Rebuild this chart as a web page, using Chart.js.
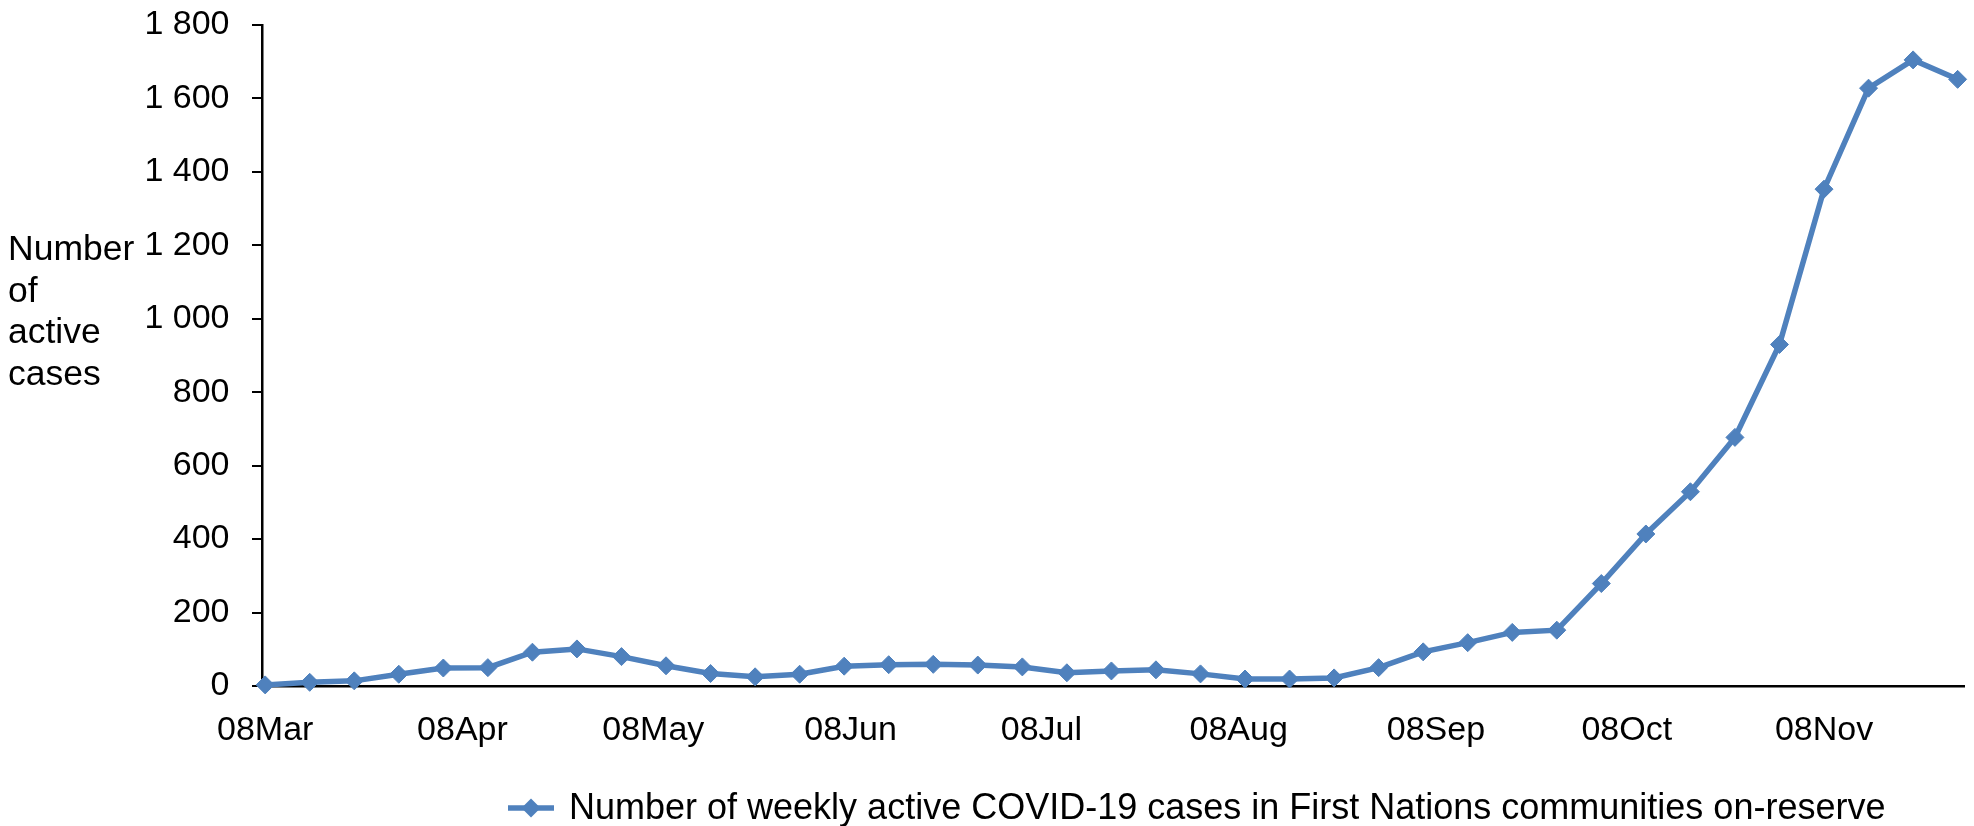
<!DOCTYPE html>
<html>
<head>
<meta charset="utf-8">
<title>Weekly active COVID-19 cases in First Nations communities on-reserve</title>
<script src="https://cdn.jsdelivr.net/npm/chart.js@4/dist/chart.umd.min.js"></script>
<style>
  html, body { margin: 0; padding: 0; background: #ffffff; }
  #chart { display: block; }
</style>
</head>
<body>
<canvas id="chart" width="1974" height="826"></canvas>
<script>
// Week starting dates of each reported value (2020)
const weekDates = [
  "2020-03-08", "2020-03-15", "2020-03-22", "2020-03-29",
  "2020-04-05", "2020-04-12", "2020-04-19", "2020-04-26",
  "2020-05-03", "2020-05-10", "2020-05-17", "2020-05-24", "2020-05-31",
  "2020-06-07", "2020-06-14", "2020-06-21", "2020-06-28",
  "2020-07-05", "2020-07-12", "2020-07-19", "2020-07-26",
  "2020-08-02", "2020-08-09", "2020-08-16", "2020-08-23", "2020-08-30",
  "2020-09-06", "2020-09-13", "2020-09-20", "2020-09-27",
  "2020-10-04", "2020-10-11", "2020-10-18", "2020-10-25",
  "2020-11-01", "2020-11-08", "2020-11-15", "2020-11-22", "2020-11-29"
];

// Number of weekly active cases
const activeCases = [
  3, 10, 14, 32,
  49, 50, 92, 101,
  80, 55, 34, 25, 32,
  54, 58, 59, 57,
  52, 36, 41, 44,
  33, 19, 19, 22, 50,
  93, 118, 146, 152,
  279, 414, 529, 677,
  930, 1353, 1628, 1705, 1652
];

// Month tick positions and their labels on the date axis
const monthTickDates = [
  "2020-03-08", "2020-04-08", "2020-05-08", "2020-06-08", "2020-07-08",
  "2020-08-08", "2020-09-08", "2020-10-08", "2020-11-08"
];
const monthTickLabels = [
  "08Mar", "08Apr", "08May", "08Jun", "08Jul",
  "08Aug", "08Sep", "08Oct", "08Nov"
];

// Value axis ticks and labels
const yTickValues = [0, 200, 400, 600, 800, 1000, 1200, 1400, 1600, 1800];
const yTickLabels = ["0", "200", "400", "600", "800", "1 000", "1 200", "1 400", "1 600", "1 800"];

const yTitleLines = ["Number", "of", "active", "cases"];
const seriesLabel = "Number of weekly active COVID-19 cases in First Nations communities on-reserve";

const SERIES_COLOR = "#4F81BD";
const FONT_FAMILY = "'Liberation Sans', Arial, sans-serif";
const TICK_FONT_SIZE = 34;

// Day offset from the first week, used as the x value on a linear axis
const originMs = Date.UTC(2020, 2, 8);
function dayOffset(iso) {
  const [y, m, d] = iso.split("-").map(Number);
  return Math.round((Date.UTC(y, m - 1, d) - originMs) / 86400000);
}

const points = weekDates.map((d, i) => ({ x: dayOffset(d), y: activeCases[i] }));
const monthTickValues = monthTickDates.map(dayOffset);

// Horizontal multi-line value-axis title on the left
const yTitlePlugin = {
  id: "yTitle",
  afterDraw(chart) {
    const ctx = chart.ctx;
    ctx.save();
    ctx.fillStyle = "#000000";
    ctx.font = "35.5px " + FONT_FAMILY;
    ctx.textAlign = "left";
    ctx.textBaseline = "alphabetic";
    const lineHeight = 41.5;
    yTitleLines.forEach((line, i) => {
      ctx.fillText(line, 8, 260 + i * lineHeight);
    });
    ctx.restore();
  }
};

// Legend entry: line with diamond marker, then the series name
const legendPlugin = {
  id: "seriesLegend",
  afterDraw(chart) {
    const ctx = chart.ctx;
    const ds = chart.data.datasets[0];
    const cy = 808;
    const x0 = 508, x1 = 554;
    ctx.save();
    ctx.strokeStyle = ds.borderColor;
    ctx.lineWidth = ds.borderWidth;
    ctx.beginPath();
    ctx.moveTo(x0, cy);
    ctx.lineTo(x1, cy);
    ctx.stroke();
    const r = ds.pointRadius + ds.pointBorderWidth / 2;
    const cx = (x0 + x1) / 2;
    ctx.fillStyle = ds.pointBackgroundColor;
    ctx.beginPath();
    ctx.moveTo(cx - r, cy);
    ctx.lineTo(cx, cy - r);
    ctx.lineTo(cx + r, cy);
    ctx.lineTo(cx, cy + r);
    ctx.closePath();
    ctx.fill();
    ctx.fillStyle = "#000000";
    ctx.font = "36px " + FONT_FAMILY;
    ctx.textAlign = "left";
    ctx.textBaseline = "middle";
    ctx.fillText(ds.label, 569, cy + 1);
    ctx.restore();
  }
};

new Chart(document.getElementById("chart"), {
  type: "line",
  data: {
    datasets: [{
      label: seriesLabel,
      data: points,
      borderColor: SERIES_COLOR,
      backgroundColor: SERIES_COLOR,
      borderWidth: 5.5,
      tension: 0,
      pointStyle: "rectRot",
      pointRadius: 9,
      pointHoverRadius: 9,
      pointBackgroundColor: SERIES_COLOR,
      pointBorderColor: SERIES_COLOR,
      pointBorderWidth: 1,
      clip: false
    }]
  },
  options: {
    responsive: false,
    animation: false,
    events: [],
    layout: { padding: { top: 25, right: 7.3, bottom: 0, left: 0 } },
    plugins: {
      legend: { display: false },
      tooltip: { enabled: false },
      title: { display: false }
    },
    scales: {
      x: {
        type: "linear",
        min: -0.5,
        max: 267,
        grid: { display: false, drawTicks: false },
        border: { display: true, color: "#000000", width: 2.5 },
        ticks: {
          autoSkip: false,
          maxRotation: 0,
          minRotation: 0,
          padding: 24,
          color: "#000000",
          font: { family: FONT_FAMILY, size: TICK_FONT_SIZE },
          callback: (value) => {
            const idx = monthTickValues.indexOf(value);
            return idx >= 0 ? monthTickLabels[idx] : "";
          }
        },
        afterBuildTicks: (scale) => {
          scale.ticks = monthTickValues.map((v) => ({ value: v }));
        },
        afterFit: (scale) => {
          scale.height = 140;
          scale.paddingLeft = 0;
          scale.paddingRight = 0;
        }
      },
      y: {
        type: "linear",
        min: 0,
        max: 1800,
        grid: {
          display: true,
          drawOnChartArea: false,
          drawTicks: true,
          tickLength: 10,
          color: "#000000",
          lineWidth: 2
        },
        border: { display: true, color: "#000000", width: 2.5 },
        ticks: {
          padding: 22.5,
          color: "#000000",
          font: { family: FONT_FAMILY, size: TICK_FONT_SIZE },
          callback: (value) => {
            const idx = yTickValues.indexOf(value);
            return idx >= 0 ? yTickLabels[idx] : "";
          }
        },
        afterBuildTicks: (scale) => {
          scale.ticks = yTickValues.map((v) => ({ value: v }));
        },
        afterFit: (scale) => {
          scale.width = 262;
          scale.paddingTop = 0;
          scale.paddingBottom = 0;
        }
      }
    }
  },
  plugins: [yTitlePlugin, legendPlugin]
});
</script>
</body>
</html>
